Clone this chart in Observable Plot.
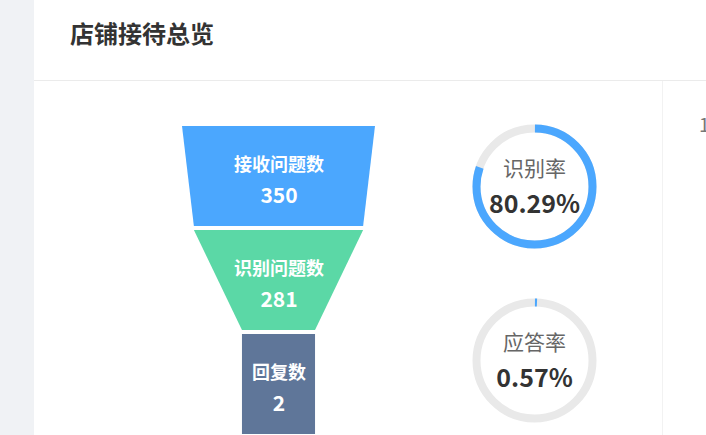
<!DOCTYPE html>
<html>
<head>
<meta charset="utf-8">
<script src="https://cdn.jsdelivr.net/npm/d3@7"></script>
<script src="https://cdn.jsdelivr.net/npm/@observablehq/plot@0.6"></script>
<style>
  html, body { margin: 0; padding: 0; }
  body { width: 706px; height: 435px; overflow: hidden; background: #fff; position: relative;
         font-family: "Noto Sans CJK SC", "Noto Sans", sans-serif; }
  #strip { position: absolute; left: 0; top: 0; width: 34px; height: 435px; background: #f0f2f5; }
  #header { position: absolute; left: 34px; top: 0; width: 672px; height: 80px; border-bottom: 1px solid #ebebeb; }
  #title { position: absolute; left: 36px; top: 18px; font-size: 24px; line-height: 30px; font-weight: bold; color: #333; white-space: nowrap; }
  #funnel { position: absolute; left: 34px; top: 81px; }
  #rings { position: absolute; left: 434px; top: 81px; }
  #divider { position: absolute; left: 662px; top: 81px; width: 0; height: 354px; border-left: 1px solid #f2f2f2; }
  #edge { position: absolute; left: 699px; top: 112px; font-size: 19px; line-height: 24px; color: #777; white-space: nowrap; }
  svg text { font-family: "Noto Sans CJK SC", "Noto Sans", sans-serif; }
</style>
</head>
<body>
<div id="strip"></div>
<div id="header"><div id="title"></div></div>
<div id="funnel"></div>
<div id="rings"></div>
<div id="divider"></div>
<div id="edge"></div>
<script>
// ---- data ----
const titleText = "店铺接待总览";
const stages = ["接收问题数", "识别问题数", "回复数"];
const counts = [350, 281, 2];
const stageColors = ["#4ba7fe", "#5bd8a6", "#5f7699"];
const rateLabels = ["识别率", "应答率"];
const rates = [80.29, 0.57]; // percent
const edgeText = "1";

document.getElementById("title").textContent = titleText;
document.getElementById("edge").textContent = edgeText;

// ---- funnel ----
const gap = 4 / 104;           // gap between funnel pieces (fraction of a step)
const minSize = 0.375;         // funnel minSize, relative to max width
const size = d3.scaleLinear([0, d3.max(counts)], [minSize, 1]);

const stageData = stages.map((s, i) => ({stage: s, count: counts[i], i}));
const rows = stageData.flatMap((d, i) => {
  const next = i + 1 < counts.length ? counts[i + 1] : counts[i];
  return [
    {stage: d.stage, y: i, half: size(d.count) / 2},
    {stage: d.stage, y: i + 1 - gap, half: size(next) / 2}
  ];
});

const funnel = Plot.plot({
  width: 400,
  height: 354,
  margin: 0,
  x: {domain: [-0.5, 0.5], range: [148, 341], axis: null},
  y: {domain: [0, 3], range: [45, 357], axis: null},
  color: {domain: stages, range: stageColors},
  marks: [
    Plot.areaX(rows, {y: "y", x1: d => -d.half, x2: d => d.half, z: "stage", fill: "stage", curve: "linear"}),
    Plot.text(stageData, {x: () => 0, y: d => d.i + (1 - gap) / 2, text: "stage", dy: -11,
      fill: "white", fontSize: 18, fontWeight: "bold"}),
    Plot.text(stageData, {x: () => 0, y: d => d.i + (1 - gap) / 2, text: d => String(d.count), dy: 20,
      fill: "white", fontSize: 21, fontWeight: "bold"})
  ]
});
document.getElementById("funnel").appendChild(funnel);

// ---- rings ----
const rateData = rateLabels.map((l, i) => ({label: l, rate: rates[i]}));
const ringR = 58, ringW = 8;
const C = 2 * Math.PI * ringR;

const rings = Plot.plot({
  width: 200,
  height: 354,
  margin: 0,
  y: {type: "point", domain: rateLabels, range: [104.7, 278.7], padding: 0, axis: null},
  marks: [
    Plot.dot(rateData, {y: "label", r: ringR, stroke: "#e9e9e9", strokeWidth: ringW, fill: "none"}),
    ...rateData.map(d => {
      const L = d.rate / 100 * C;
      return Plot.dot([d], {y: "label", r: ringR, stroke: "#4ba7fe", strokeWidth: ringW, fill: "none",
        strokeDasharray: `${L} ${C - L}`, strokeDashoffset: C / 4});
    }),
    Plot.text(rateData, {y: "label", text: "label", dy: -17, fill: "#666", fontSize: 21}),
    Plot.text(rateData, {y: "label", text: d => d3.format(".2f")(d.rate) + "%", dy: 18,
      fill: "#333", fontSize: 25, fontWeight: 600})
  ]
});
document.getElementById("rings").appendChild(rings);
</script>
</body>
</html>
